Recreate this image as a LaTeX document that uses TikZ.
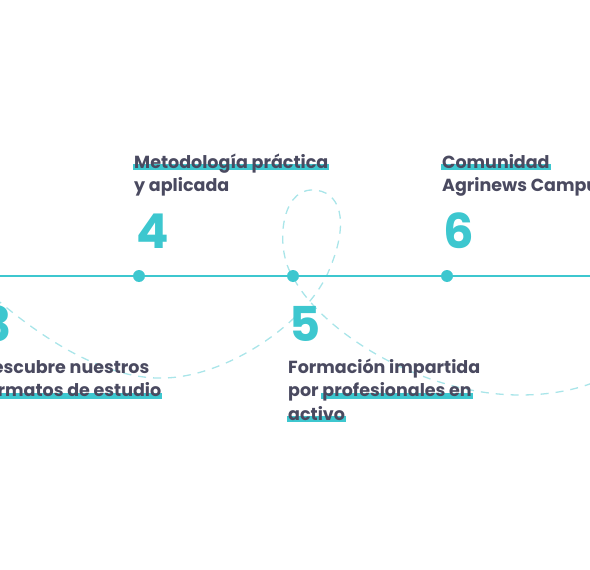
\documentclass[tikz,border=0pt]{standalone}
\usepackage{fontspec}
\setmainfont{Poppins}
\usetikzlibrary{positioning}
\definecolor{aqua}{HTML}{3DC7CF}
\definecolor{aqualt}{HTML}{A9E5E9}
\definecolor{ink}{HTML}{4A4A60}
% teal marker stroke behind a few words
\newcommand\hlw[1]{\leavevmode\setbox0\hbox{#1}\rlap{\color{aqua}\kern-1pt\rule[-2pt]{\dimexpr\wd0+2pt\relax}{6pt}}\box0}

\begin{document}
\begin{tikzpicture}[x=1pt,y=-1pt,
 dot/.style={circle,fill=aqua,inner sep=0pt,minimum size=12pt},
 lbl/.style={anchor=base west,inner sep=0pt,align=left,text=ink,font=\bfseries\fontsize{17.5}{23.5}\selectfont},
 num/.style={anchor=base west,inner sep=0pt,text=aqua,font=\bfseries\fontsize{48}{48}\selectfont},
 trail/.style={aqualt,line width=1.3pt,dash pattern=on 8pt off 7pt}]
\useasboundingbox (0,0) rectangle (590,570);
\clip (0,0) rectangle (590,570);
% dashed trail behind the timeline
\draw[trail] (-5,298) .. controls (50,345) and (110,380) .. (165,378)
 .. controls (230,376) and (310,320) .. (330,268)
 .. controls (350,220) and (340,190) .. (312,190)
 .. controls (280,190) and (275,250) .. (293,277)
 .. controls (320,330) and (420,395) .. (520,395)
 .. controls (550,395) and (575,390) .. (595,382);
% timeline
\coordinate (start) at (0,276);
\coordinate (end) at (590,276);
\draw[aqua,line width=2pt] (start) -- (end);
\node[dot] (d4) at (139,276) {};
\node[dot] (d5) at (293,276) {};
\node[dot] (d6) at (447,276) {};
% steps (label anchors sit on the last line)
\node[num] (n3) at (-18,341) {3};
\node[lbl] (t3) at (-20,396.5) {Descubre nuestros\\\hlw{formatos de estudio}};
\node[num] (n4) at (136,248) {4};
\node[lbl] (t4) at (134,191.5) {\hlw{Metodología práctica}\\y aplicada};
\node[num] (n5) at (289,341) {5};
\node[lbl] (t5) at (288,420) {Formación impartida\\por \hlw{profesionales en}\\\hlw{activo}};
\node[num] (n6) at (443,248) {6};
\node[lbl] (t6) at (442,191.5) {\hlw{Comunidad}\\Agrinews Campus};
\end{tikzpicture}
\end{document}
